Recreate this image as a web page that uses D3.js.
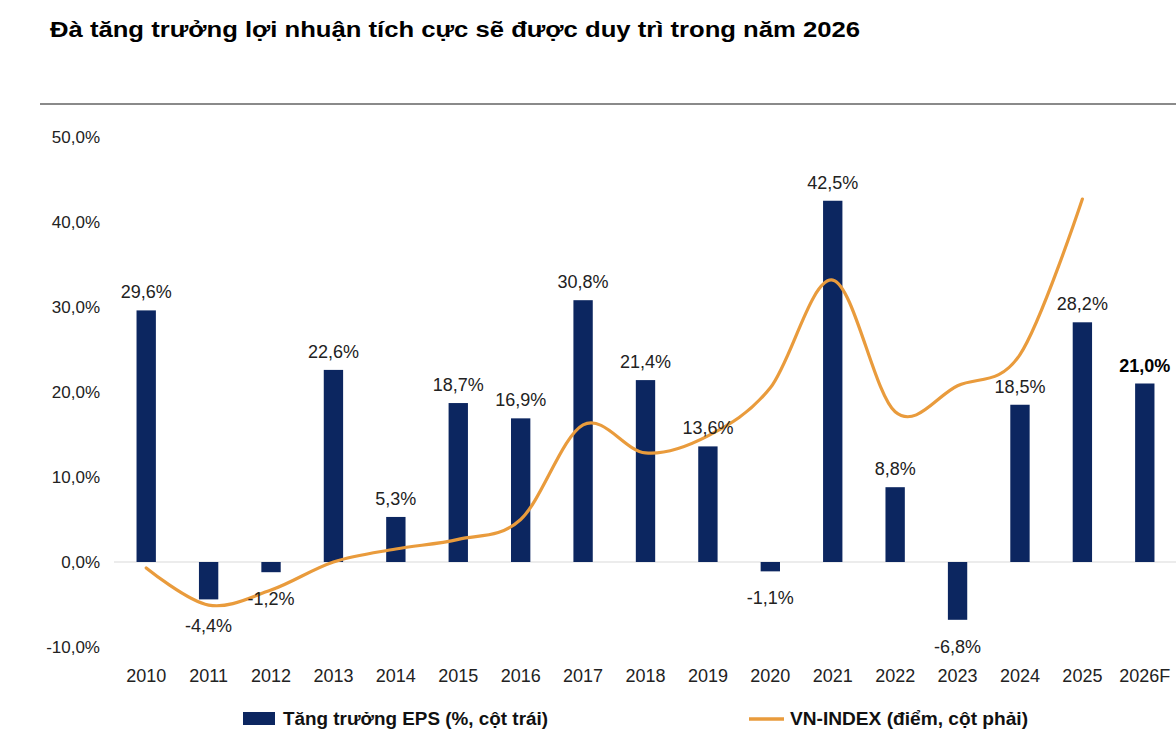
<!DOCTYPE html>
<html>
<head>
<meta charset="utf-8">
<script src="https://cdn.jsdelivr.net/npm/d3@7/dist/d3.min.js"></script>
<style>
  html, body { margin: 0; padding: 0; background: #fff; }
  svg { display: block; font-family: "Liberation Sans", Arial, sans-serif; }
</style>
</head>
<body>
<svg id="chart" width="1176" height="735"></svg>
<script>
const categories = ["2010","2011","2012","2013","2014","2015","2016","2017","2018","2019","2020","2021","2022","2023","2024","2025","2026F"];
const epsGrowth = [29.6, -4.4, -1.2, 22.6, 5.3, 18.7, 16.9, 30.8, 21.4, 13.6, -1.1, 42.5, 8.8, -6.8, 18.5, 28.2, 21.0];
const vnIndex = [479, 348, 401, 500, 546, 580, 650, 984, 885, 945, 1115, 1495, 1030, 1122, 1232, 1781];
const leftTicks = [-10, 0, 10, 20, 30, 40, 50];
const title = "Đà tăng trưởng lợi nhuận tích cực sẽ được duy trì trong năm 2026";
const legendLabels = ["Tăng trưởng EPS (%, cột trái)", "VN-INDEX (điểm, cột phải)"];

const NAVY = "#0c2660", ORANGE = "#e99b3c";
const locale = d3.formatLocale({decimal: ",", thousands: ".", grouping: [3], currency: ["", ""], minus: "-"});
const fmt = v => locale.format(".1f")(v) + "%";

const svg = d3.select("#chart");

svg.append("text").attr("x", 50).attr("y", 37)
  .attr("font-size", 22.5).attr("font-weight", "bold").attr("fill", "#000")
  .attr("textLength", 810).attr("lengthAdjust", "spacingAndGlyphs")
  .text(title);

svg.append("line").attr("x1", 40).attr("x2", 1176).attr("y1", 104).attr("y2", 104)
  .attr("stroke", "#8a8a8a").attr("stroke-width", 2);

const x = d3.scaleBand().domain(categories).range([115, 1176]).paddingInner(0.69).paddingOuter(0.345);
const y = d3.scaleLinear().domain([-10, 50]).range([647, 137]);
const yR = d3.scaleLinear().domain([200, 2000]).range([647, 137]);

// left axis labels
const yAxis = d3.axisLeft(y).tickValues(leftTicks).tickSize(0).tickPadding(0).tickFormat(fmt);
const gy = svg.append("g").attr("transform", "translate(100,0)").call(yAxis);
gy.select(".domain").remove();
gy.selectAll("text").attr("font-size", 17).attr("fill", "#222").attr("font-family", "Liberation Sans, Arial, sans-serif");

// zero line
svg.append("line").attr("x1", 114).attr("x2", 1176).attr("y1", y(0)).attr("y2", y(0))
  .attr("stroke", "#d9d9d9").attr("stroke-width", 1.2);

// x axis labels
const xAxis = d3.axisBottom(x).tickSize(0).tickPadding(0);
const gx = svg.append("g").attr("transform", "translate(0,668)").call(xAxis);
gx.select(".domain").remove();
gx.selectAll("text").attr("font-size", 18).attr("fill", "#222").attr("dy", "0.75em").attr("font-family", "Liberation Sans, Arial, sans-serif");

// bars
svg.append("g").selectAll("rect").data(epsGrowth).join("rect")
  .attr("x", (d, i) => x(categories[i]))
  .attr("width", x.bandwidth())
  .attr("y", d => y(Math.max(0, d)))
  .attr("height", d => Math.abs(y(d) - y(0)))
  .attr("fill", NAVY);

// line
const line = d3.line()
  .x((d, i) => x(categories[i]) + x.bandwidth() / 2)
  .y(d => yR(d))
  .curve(d3.curveCatmullRom.alpha(0));
svg.append("path").datum(vnIndex).attr("d", line)
  .attr("fill", "none").attr("stroke", ORANGE).attr("stroke-width", 3.2).attr("stroke-linecap", "round");

// data labels
svg.append("g").selectAll("text").data(epsGrowth).join("text")
  .attr("x", (d, i) => x(categories[i]) + x.bandwidth() / 2)
  .attr("y", d => d >= 0 ? y(d) - 12 : y(d) + 33)
  .attr("text-anchor", "middle")
  .attr("font-size", 18)
  .attr("font-weight", (d, i) => i === categories.length - 1 ? "bold" : "normal")
  .attr("fill", (d, i) => i === categories.length - 1 ? "#000" : "#222")
  .text(d => fmt(d));

// legend
const lg = svg.append("g");
lg.append("rect").attr("x", 243).attr("y", 712).attr("width", 32).attr("height", 13).attr("fill", NAVY);
lg.append("text").attr("x", 283).attr("y", 725).attr("font-size", 18).attr("font-weight", "bold")
  .attr("textLength", 265).attr("lengthAdjust", "spacingAndGlyphs").attr("fill", "#111").text(legendLabels[0]);
lg.append("line").attr("x1", 749).attr("x2", 784).attr("y1", 719).attr("y2", 719)
  .attr("stroke", ORANGE).attr("stroke-width", 3.5);
lg.append("text").attr("x", 790).attr("y", 725).attr("font-size", 18).attr("font-weight", "bold")
  .attr("textLength", 238).attr("lengthAdjust", "spacingAndGlyphs").attr("fill", "#111").text(legendLabels[1]);
</script>
</body>
</html>
